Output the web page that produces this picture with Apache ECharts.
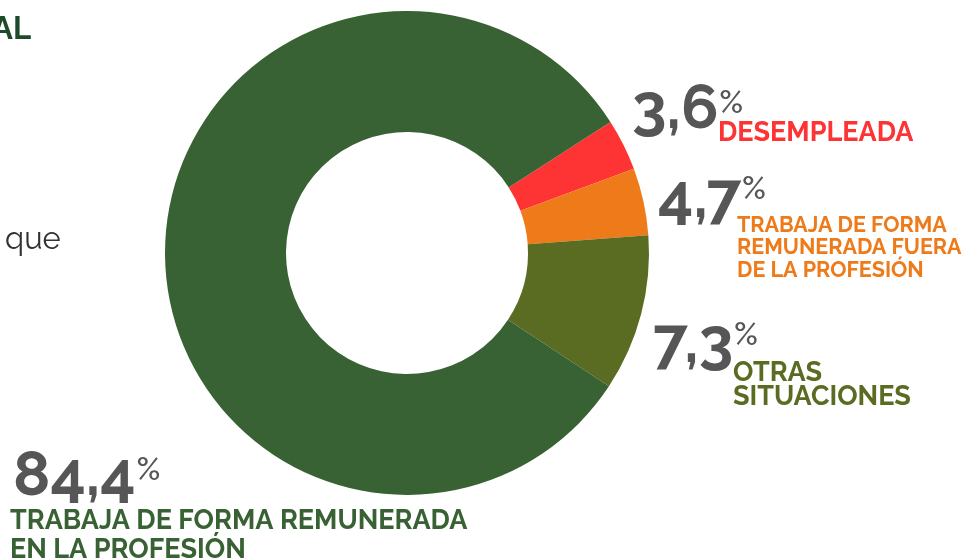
<!DOCTYPE html>
<html>
<head>
<meta charset="utf-8">
<script src="https://cdn.jsdelivr.net/npm/echarts@6/dist/echarts.min.js"></script>
<style>
  html, body { margin: 0; padding: 0; background: #fff; }
  #chart { width: 965px; height: 560px; }
</style>
</head>
<body>
<div id="chart"></div>
<script>
// situación laboral
var categories = ['DESEMPLEADA', 'TRABAJA DE FORMA\nREMUNERADA FUERA\nDE LA PROFESIÓN', 'OTRAS\nSITUACIONES', 'TRABAJA DE FORMA REMUNERADA\nEN LA PROFESIÓN']
var valueLabels = ['3,6', '4,7', '7,3', '84,4']
// slice sizes as drawn in the picture (the olive slice is drawn larger than its label)
var sliceValues = [3.45, 4.5, 10.45, 81.6]

var colors = ['#fe3334', '#ee7a19', '#5a6c22', '#386233']
var font = 'Raleway, Lato, sans-serif'

// label anchors: [number x, number middle y, text x, text top y, text size, line height, % middle y]
var labelPos = [
  [632, 109, 718, 121, 27, 24, 104],
  [658, 198, 737, 214, 21.5, 22.5, 190],
  [653, 343, 733, 361, 27, 24, 336],
  [13, 476, 10, 507, 27, 28.5, 471]
]

var chart = echarts.init(document.getElementById('chart'))

var measure = document.createElement('canvas').getContext('2d')
measure.font = 'bold 62px ' + font

var g = []
labelPos.forEach(function (p, i) {
  var w = measure.measureText(valueLabels[i]).width
  g.push({
    type: 'text', x: p[0], y: p[1],
    style: { text: valueLabels[i], fontFamily: font, fontWeight: 'bold', fontSize: 62, fill: '#565656', verticalAlign: 'middle', align: 'left' }
  })
  g.push({
    type: 'text', x: p[0] + w + 1, y: p[6],
    style: { text: '%', fontFamily: font, fontWeight: 600, fontSize: 31, fill: '#565656', verticalAlign: 'middle', align: 'left' }
  })
  g.push({
    type: 'text', x: p[2], y: p[3],
    style: { text: categories[i], fontFamily: font, fontWeight: 'bold', fontSize: p[4], lineHeight: p[5], fill: colors[i], verticalAlign: 'top', align: 'left' }
  })
})
// page text cut off at the left edge
g.push({ type: 'text', x: 31, y: 30, style: { text: 'AL', fontFamily: font, fontWeight: 'bold', fontSize: 31, fill: '#1d4a28', align: 'right', verticalAlign: 'middle' } })
g.push({ type: 'text', x: 5, y: 240, style: { text: 'que', fontFamily: font, fontSize: 31, fill: '#333333', align: 'left', verticalAlign: 'middle' } })

chart.setOption({
  animation: false,
  series: [{
    type: 'pie',
    center: [407, 253],
    radius: [121, 242],
    startAngle: 32.8,
    clockwise: true,
    silent: true,
    label: { show: false },
    labelLine: { show: false },
    data: sliceValues.map(function (v, i) {
      return { value: v, name: categories[i], itemStyle: { color: colors[i] } }
    })
  }],
  graphic: g
})
</script>
</body>
</html>
